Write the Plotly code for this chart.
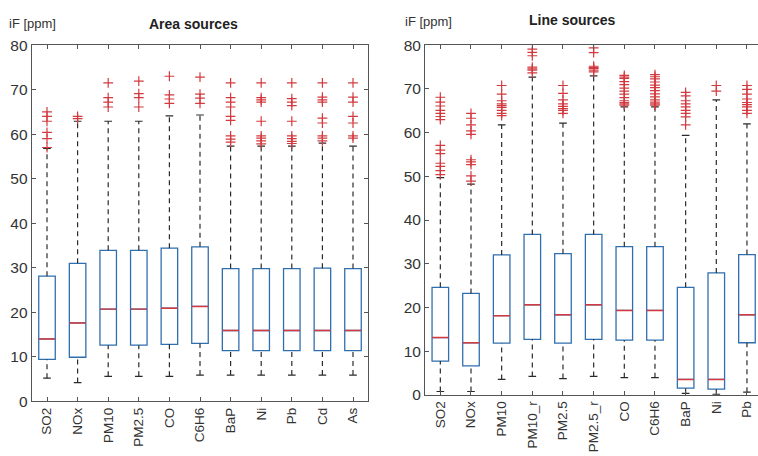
import plotly.graph_objects as go

# ---------------- data ----------------
area_cats = ["SO2", "NOx", "PM10", "PM2.5", "CO", "C6H6", "BaP", "Ni", "Pb", "Cd", "As"]
area_q1 = [9.4, 9.9, 12.6, 12.6, 12.8, 13.0, 11.4, 11.4, 11.4, 11.4, 11.4]
area_med = [14.0, 17.6, 20.7, 20.7, 20.9, 21.3, 15.9, 15.9, 15.9, 15.9, 15.9]
area_q3 = [28.1, 31.0, 33.9, 33.9, 34.4, 34.7, 29.8, 29.8, 29.8, 29.9, 29.8]
area_lo = [5.2, 4.2, 5.6, 5.6, 5.6, 5.9, 5.9, 5.9, 5.9, 5.9, 5.9]
area_hi = [56.8, 62.9, 62.9, 62.9, 64.1, 64.3, 57.3, 57.3, 57.3, 58.0, 57.3]
area_out = [
    [65.0, 64.0, 62.9, 60.4, 59.0, 57.0],
    [64.0, 63.5],
    [71.5, 68.2, 67.2, 66.1],
    [71.9, 69.1, 68.2, 66.1],
    [73.0, 68.8, 67.9, 66.9],
    [72.8, 69.0, 68.1, 66.9],
    [71.5, 68.2, 67.2, 66.1, 64.0, 63.1, 59.6, 58.9, 58.2],
    [71.5, 68.2, 67.7, 67.2, 62.9, 59.6, 59.1, 58.5, 57.8],
    [71.5, 68.0, 67.2, 66.4, 62.9, 59.6, 59.0, 58.4, 57.9],
    [71.5, 68.3, 67.7, 67.2, 63.6, 62.5, 59.6, 59.1, 58.5],
    [71.5, 68.3, 67.2, 64.0, 62.5, 59.6, 59.1],
]

line_cats = ["SO2", "NOx", "PM10", "PM10_r", "PM2.5", "PM2.5_r", "CO", "C6H6", "BaP", "Ni", "Pb"]
line_q1 = [7.7, 6.6, 11.8, 12.7, 11.8, 12.7, 12.5, 12.5, 1.5, 1.3, 11.9]
line_med = [13.1, 11.9, 18.1, 20.6, 18.3, 20.6, 19.3, 19.3, 3.5, 3.5, 18.3]
line_q3 = [24.6, 23.2, 32.0, 36.7, 32.3, 36.7, 33.9, 33.9, 24.6, 27.9, 32.1]
line_lo = [0.75, 0.75, 3.5, 4.2, 3.7, 4.2, 3.9, 3.9, 0.3, 0.1, 0.6]
line_hi = [49.7, 48.2, 61.8, 72.7, 62.2, 73.0, 65.9, 65.9, 59.4, 67.5, 62.0]
line_out = [
    [68.1, 67.0, 66.1, 65.1, 64.4, 63.7, 63.0, 57.1, 56.0, 55.2, 53.0, 52.3, 51.3, 50.4],
    [64.4, 63.3, 61.8, 60.4, 59.6, 53.8, 53.3, 52.7, 50.1, 48.9],
    [70.8, 68.8, 67.3, 66.6, 66.2, 65.8, 65.1, 64.4, 63.9],
    [79.1, 78.4, 77.6, 75.0, 74.6, 74.3, 73.7],
    [70.8, 69.0, 67.5, 66.6, 66.0, 65.5, 65.1, 64.4],
    [79.4, 78.3, 75.2, 74.9, 74.7, 74.3, 73.9],
    [73.1, 72.7, 72.4, 71.7, 71.0, 70.2, 69.5, 68.8, 68.0, 67.3, 66.9, 66.6, 66.3],
    [73.3, 72.8, 72.3, 71.6, 70.9, 70.3, 69.6, 68.9, 68.2, 67.5, 67.0, 66.6, 66.3],
    [69.2, 68.4, 67.3, 66.6, 65.9, 65.1, 64.4, 63.6, 61.8],
    [70.8, 69.5],
    [70.8, 69.9, 68.8, 67.7, 66.9, 66.4, 65.9, 65.1, 64.4],
]

y_ticks = [0, 10, 20, 30, 40, 50, 60, 70, 80]

# ---------------- style ----------------
BOX_BLUE = "#2f6fae"
MED_RED = "#d23a3f"
WHISK = "#2a2a2a"
AXC = "#555555"
TXT = "#333333"
BOX_W = 0.54
CAP_W = 0.25

fig = go.Figure()


def add_panel(cats, q1, med, q3, lo, hi, outs, xa, ya):
    pos = list(range(1, len(cats) + 1))
    # whiskers (dashed)
    wx, wy = [], []
    for p, a, b, c, d in zip(pos, lo, q1, q3, hi):
        wx += [p, p, None, p, p, None]
        wy += [c, d, None, a, b, None]
    fig.add_trace(go.Scatter(x=wx, y=wy, mode="lines", xaxis=xa, yaxis=ya,
                             line=dict(color=WHISK, width=1.2, dash="5px,4px"),
                             hoverinfo="skip", showlegend=False))
    # caps
    cx, cy = [], []
    for p, a, d in zip(pos, lo, hi):
        cx += [p - CAP_W / 2, p + CAP_W / 2, None, p - CAP_W / 2, p + CAP_W / 2, None]
        cy += [d, d, None, a, a, None]
    fig.add_trace(go.Scatter(x=cx, y=cy, mode="lines", xaxis=xa, yaxis=ya,
                             line=dict(color=WHISK, width=1.2),
                             hoverinfo="skip", showlegend=False))
    # boxes
    fig.add_trace(go.Box(x=pos, q1=q1, median=med, q3=q3, lowerfence=q1, upperfence=q3,
                         width=BOX_W, xaxis=xa, yaxis=ya,
                         line=dict(color=BOX_BLUE, width=1.3),
                         fillcolor="rgba(0,0,0,0)", showlegend=False, hoverinfo="skip"))
    # medians
    mx, my = [], []
    for p, m in zip(pos, med):
        mx += [p - BOX_W / 2, p + BOX_W / 2, None]
        my += [m, m, None]
    fig.add_trace(go.Scatter(x=mx, y=my, mode="lines", xaxis=xa, yaxis=ya,
                             line=dict(color=MED_RED, width=1.4),
                             hoverinfo="skip", showlegend=False))
    # outliers
    ox, oy = [], []
    for p, o in zip(pos, outs):
        ox += [p] * len(o)
        oy += o
    fig.add_trace(go.Scatter(x=ox, y=oy, mode="markers", xaxis=xa, yaxis=ya,
                             marker=dict(symbol="cross-thin", size=7,
                                         line=dict(color=MED_RED, width=1.2)),
                             hoverinfo="skip", showlegend=False))


add_panel(area_cats, area_q1, area_med, area_q3, area_lo, area_hi, area_out, "x", "y")
add_panel(line_cats, line_q1, line_med, line_q3, line_lo, line_hi, line_out, "x2", "y2")

W, H = 758, 456
axis_common = dict(showgrid=False, zeroline=False, showline=True, linecolor=AXC, linewidth=1,
                   ticks="inside", ticklen=4, tickcolor=AXC)

fig.update_layout(
    width=W, height=H, margin=dict(l=0, r=0, t=0, b=0),
    paper_bgcolor="white", plot_bgcolor="white",
    font=dict(family="Liberation Sans, Arial, sans-serif", color=TXT),
    xaxis=dict(**axis_common, domain=[31.7 / W, 368.3 / W], range=[0.5, 11.5],
               tickvals=list(range(1, 12)), ticktext=area_cats, tickangle=-90,
               tickfont=dict(size=13.5), mirror="ticks", anchor="y"),
    yaxis=dict(**axis_common, domain=[(H - 407.5) / H, (H - 37.5) / H], range=[0, 80],
               tickvals=y_ticks, tickfont=dict(size=15.5), mirror="ticks", anchor="x"),
    xaxis2=dict(**axis_common, domain=[425 / W, 1.0], range=[0.5, 11.36],
                tickvals=list(range(1, 12)), ticktext=line_cats, tickangle=-90,
                tickfont=dict(size=13.5), mirror="ticks", anchor="y2"),
    yaxis2=dict(**axis_common, domain=[(H - 400.7) / H, (H - 37.7) / H], range=[0, 80],
                tickvals=y_ticks, tickfont=dict(size=15.5), mirror=False, anchor="x2"),
    annotations=[
        dict(text="iF [ppm]", x=7 / W, y=1 - 15 / H, xref="paper", yref="paper",
             xanchor="left", yanchor="middle", showarrow=False, font=dict(size=13, color=TXT)),
        dict(text="<b>Area sources</b>", x=193 / W, y=1 - 16 / H, xref="paper", yref="paper",
             xanchor="center", yanchor="middle", showarrow=False, font=dict(size=14, color="#222")),
        dict(text="iF [ppm]", x=403 / W, y=1 - 12.5 / H, xref="paper", yref="paper",
             xanchor="left", yanchor="middle", showarrow=False, font=dict(size=13, color=TXT)),
        dict(text="<b>Line sources</b>", x=572 / W, y=1 - 11 / H, xref="paper", yref="paper",
             xanchor="center", yanchor="middle", showarrow=False, font=dict(size=14, color="#222")),
    ],
)

fig.write_html("out.html")
